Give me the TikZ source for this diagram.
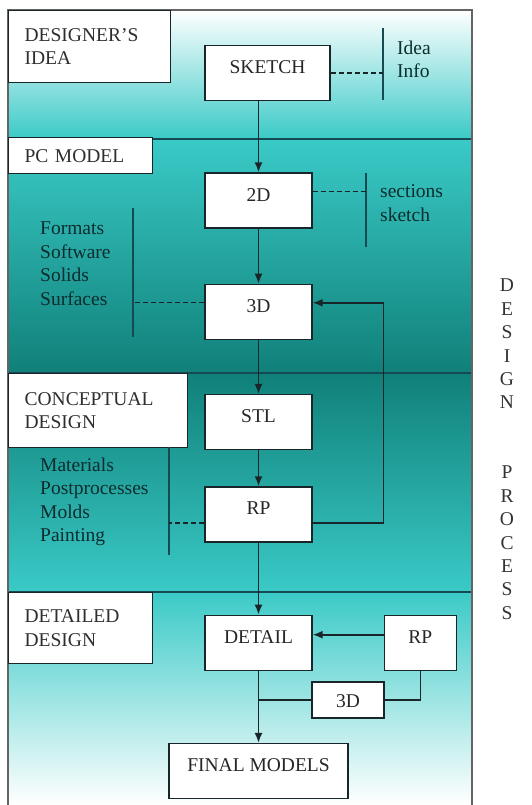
\documentclass[tikz,border=0pt]{standalone}
\usepackage{fontspec}
\setmainfont{Liberation Serif}
\usepackage{xcolor}
\usetikzlibrary{arrows.meta,positioning}

\definecolor{turq}{RGB}{58,202,199}
\definecolor{deepteal}{RGB}{16,128,121}
\definecolor{inkline}{RGB}{24,38,42}
\definecolor{rulecol}{RGB}{22,74,82}
\definecolor{framegrey}{RGB}{100,100,100}
\definecolor{listink}{RGB}{12,44,46}
\newcommand{\diagfont}{\fontsize{19.5pt}{23.4pt}\selectfont}

\begin{document}
\begin{tikzpicture}[
    x=1pt, y=-1pt,
    box/.style={draw=inkline, line width=1.3pt, fill=white, minimum width=107pt,
                inner xsep=4pt, inner ysep=0pt, text height=28pt, text depth=27pt,
                font=\diagfont, text=black!85},
    tag/.style={draw=inkline, line width=1.3pt, fill=white, anchor=north west,
                align=left, inner xsep=16pt, font=\diagfont, text=black!82},
    note/.style={align=left, inner sep=0pt, anchor=north west, font=\diagfont, text=listink},
    arr/.style={-{Latex[length=10pt,width=8pt]}, line width=1.6pt, draw=inkline},
    link/.style={line width=1.6pt, draw=inkline},
    dotlink/.style={dash pattern=on 5pt off 3pt, line width=1.3pt, draw=inkline},
    bar/.style={line width=1.7pt, draw=rulecol},
    divider/.style={line width=2.4pt, draw=rulecol}
  ]
  \useasboundingbox (0,0) rectangle (531,805);

  % Stage bands
  \shade[top color=white, bottom color=turq] (8,10) rectangle (472,139);
  \shade[top color=turq, bottom color=deepteal] (8,139) rectangle (472,373);
  \shade[top color=deepteal, bottom color=turq] (8,373) rectangle (472,592);
  \shade[top color=turq, bottom color=white] (8,592) rectangle (472,805);
  \draw[divider] (8,139) -- (472,139);
  \draw[divider] (8,373) -- (472,373);
  \draw[divider] (8,592) -- (472,592);
  \draw[framegrey, line width=1.6pt] (8,805) -- (8,10) -- (472,10) -- (472,805);

  % Stage names
  \node[tag, text width=130pt, minimum height=72pt] (idea) at (8,10) {DESIGNER'S\\IDEA};
  \node[tag, text width=112pt, minimum height=36pt] (pcmodel) at (8,137) {PC MODEL};
  \node[tag, text width=147pt, minimum height=74pt] (concept) at (8,373) {CONCEPTUAL\\DESIGN};
  \node[tag, text width=112pt, minimum height=71pt] (detailed) at (8,592) {DETAILED\\DESIGN};

  % Main chain
  \node[box, minimum width=125pt] (sketch) at (267.5,73) {SKETCH};
  \node[box] (twod) at (258.5,200.5) {2D};
  \node[box, below=55pt of twod] (threed) {3D};
  \node[box, below=54pt of threed] (stl) {STL};
  \node[box, below=36pt of stl] (rp) {RP};
  \node[box, below=72pt of rp] (detail) {DETAIL};
  \node[box, minimum width=179pt, below=72pt of detail] (final) {FINAL MODELS};

  % Detail loop
  \node[box, minimum width=72pt, right=71pt of detail] (rpcheck) {RP};
  \node[box, minimum width=72pt, text height=25pt, text depth=11pt] (threedcheck) at (348,700) {3D};

  % Side notes
  \coordinate (ideabar) at (383,28);
  \coordinate (secbar) at (366,173);
  \coordinate (fmtbar) at (133,208);
  \coordinate (matbar) at (169,447);
  \draw[bar] (ideabar) -- ++(0,72);
  \draw[bar] (secbar) -- ++(0,74);
  \draw[bar] (fmtbar) -- ++(0,129);
  \draw[bar] (matbar) -- ++(0,108);
  \node[note] (ideainfo) at (397,40.5) {Idea\\Info};
  \node[note] (sections) at (380,184.5) {sections\\sketch};
  \node[note] (formats) at (40,222) {Formats\\Software\\Solids\\Surfaces};
  \node[note] (materials) at (40,457.5) {Materials\\Postprocesses\\Molds\\Painting};
  \draw[dotlink] (sketch.east) -- (sketch.east -| ideabar);
  \draw[dotlink] ([yshift=9pt]twod.east) -- ([yshift=9pt]twod.east -| secbar);
  \draw[dotlink] ([yshift=9pt]threed.west) -- ([yshift=9pt]threed.west -| fmtbar);
  \draw[dotlink] ([yshift=-8.5pt]rp.west) -- ([yshift=-8.5pt]rp.west -| matbar);

  % Vertical caption
  \node[anchor=north, align=center, inner sep=0pt, font=\diagfont, text=black!80] (process)
    at (507,279) {D\\E\\S\\I\\G\\N\\[46.6pt]P\\R\\O\\C\\E\\S\\S};

  % Arrows
  \draw[arr] (sketch.south -| twod.north) -- (twod);
  \draw[arr] (twod) -- (threed);
  \draw[arr] (threed) -- (stl);
  \draw[arr] (stl) -- (rp);
  \draw[arr] (rp) -- (detail);
  \draw[arr] (detail) -- (final);
  \draw[arr] ([yshift=-8.5pt]rp.east) -- ++(71,0) |- ([yshift=9pt]threed.east);
  \draw[arr] ([yshift=8pt]rpcheck.west) -- ([yshift=8pt]detail.east);
  \draw[link] (rpcheck.south) |- (threedcheck.east);
  \draw[link] (threedcheck.west) -- (threedcheck.west -| detail.south);
\end{tikzpicture}
\end{document}
